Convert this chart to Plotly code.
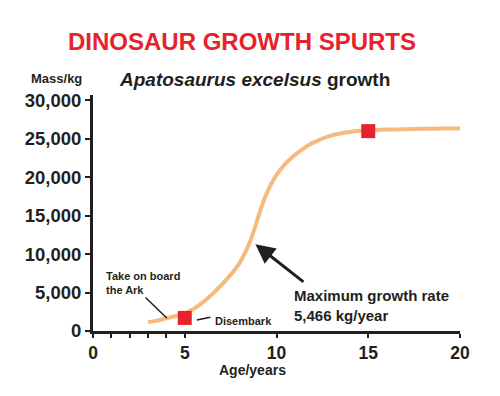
import plotly.graph_objects as go

# Growth curve
age_years = [3.0, 3.5, 4.0, 4.5, 5.0, 5.5, 6.0, 6.5, 7.0, 7.5, 8.0, 8.5, 8.75, 9.0, 9.25, 9.5,
             10.0, 10.5, 11.0, 11.5, 12.0, 13.0, 14.0, 15.0, 16.0, 17.0, 18.0, 19.0, 20.0]
mass_kg = [1150, 1350, 1650, 1950, 2300, 2900, 3750, 4800, 6000, 7300, 8900, 11300, 12900, 14800, 16600, 18100,
           20300, 21800, 22900, 23800, 24500, 25450, 25900, 26100, 26200, 26250, 26300, 26330, 26350]

# Highlighted points
marker_age = [5, 15]
marker_mass = [1700, 26000]

x_tickvals = [0, 1, 2, 3, 4, 5, 10, 15, 20]
x_ticktext = ["0", "", "", "", "", "5", "10", "15", "20"]
y_tickvals = [0, 5000, 10000, 15000, 20000, 25000, 30000]
y_ticktext = ["0", "5,000", "10,000", "15,000", "20,000", "25,000", "30,000"]

FONT = "Liberation Sans, Arial, Helvetica, sans-serif"
RED = "#e8212b"
PEACH = "#f6b97f"
INK = "#231f20"

fig = go.Figure()
fig.add_trace(go.Scatter(x=age_years, y=mass_kg, mode="lines",
                         line=dict(color=PEACH, width=4, shape="spline", smoothing=0.8),
                         hoverinfo="skip", showlegend=False))
fig.add_trace(go.Scatter(x=marker_age, y=marker_mass, mode="markers",
                         marker=dict(symbol="square", size=14, color=RED),
                         hoverinfo="skip", showlegend=False))

fig.update_layout(
    width=500, height=396,
    margin=dict(l=93, r=40, t=95, b=65),
    paper_bgcolor="white", plot_bgcolor="white",
    font=dict(family=FONT, color=INK),
    title=dict(text="<b>DINOSAUR GROWTH SPURTS</b>", x=0.484, xanchor="center",
               y=1 - 42 / 396, yanchor="middle", font=dict(size=24, color=RED, family=FONT)),
    xaxis=dict(range=[0, 20], tickvals=x_tickvals, ticktext=["<b>%s</b>" % t if t else "" for t in x_ticktext],
               showgrid=False, zeroline=False, showline=True, linecolor=INK, linewidth=3,
               ticks="outside", ticklen=4, tickwidth=2, tickcolor=INK,
               tickfont=dict(size=17.5, family=FONT, color=INK)),
    yaxis=dict(range=[0, 30700], tickvals=y_tickvals, ticktext=["<b>%s</b>" % t for t in y_ticktext],
               showgrid=False, zeroline=False, showline=True, linecolor=INK, linewidth=3,
               ticks="outside", ticklen=5, tickwidth=2, tickcolor=INK,
               tickfont=dict(size=18.5, family=FONT, color=INK)),
)

ann = []
ann.append(dict(xref="paper", yref="paper", x=0.0646, y=1.0636, xanchor="left", yanchor="middle",
                text="<b><i>Apatosaurus excelsus</i> growth</b>", showarrow=False,
                font=dict(size=19, family=FONT, color=INK)))
ann.append(dict(xref="paper", yref="paper", x=-0.10, y=1.072, xanchor="center", yanchor="middle",
                text="<b>Mass/kg</b>", showarrow=False, font=dict(size=13, family=FONT, color=INK)))
ann.append(dict(xref="paper", yref="paper", x=0.4355, y=-0.165, xanchor="center", yanchor="middle",
                text="<b>Age/years</b>", showarrow=False, font=dict(size=14, family=FONT, color=INK)))
# Labels
ann.append(dict(xref="x", yref="y", x=0.58, y=6230, xanchor="left", yanchor="middle", align="left",
                text="<b>Take on board<br>the Ark</b>", showarrow=False,
                font=dict(size=11, family=FONT, color=INK)))
ann.append(dict(xref="x", yref="y", x=6.53, y=1300, xanchor="left", yanchor="middle",
                text="<b>Disembark</b>", showarrow=False, font=dict(size=11, family=FONT, color=INK)))
ann.append(dict(xref="x", yref="y", x=10.84, y=3380, xanchor="left", yanchor="middle", align="left",
                text="<b>Maximum growth rate<br>5,466 kg/year</b>", showarrow=False,
                font=dict(size=15, family=FONT, color=INK)))
# Pointer lines
ann.append(dict(xref="x", yref="y", axref="x", ayref="y", x=4.02, y=1690, ax=2.78, ay=4545,
                text="", showarrow=True, arrowhead=0, arrowwidth=1.5, arrowcolor=INK, standoff=0))
ann.append(dict(xref="x", yref="y", axref="x", ayref="y", x=5.66, y=1430, ax=6.48, ay=1820,
                text="", showarrow=True, arrowhead=0, arrowwidth=1.5, arrowcolor=INK, standoff=0))
ann.append(dict(xref="x", yref="y", axref="x", ayref="y", x=8.85, y=11300, ax=11.55, ay=6230,
                text="", showarrow=True, arrowhead=2, arrowsize=1.3, arrowwidth=3, arrowcolor=INK,
                standoff=0))
fig.update_layout(annotations=ann)

fig.write_html("out.html", config={"displayModeBar": False},
               post_script="document.body.style.margin='0';")
